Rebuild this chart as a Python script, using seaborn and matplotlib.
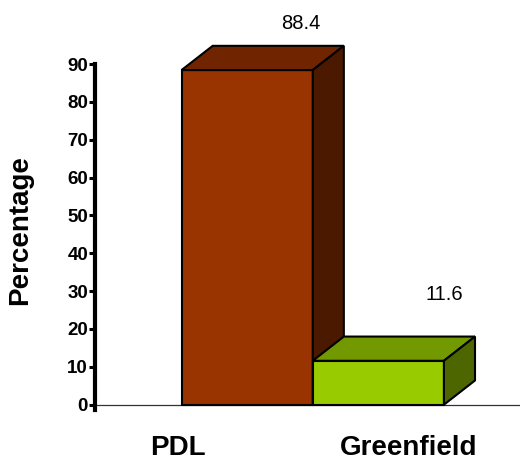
#!/usr/bin/env python3
"""
Gráfica de barras pseudo-3D: porcentaje PDL vs Greenfield.
Salida: out.png (520x462 px).
"""

import matplotlib
matplotlib.use("Agg")
import matplotlib.pyplot as plt
from matplotlib.patches import Polygon
import seaborn as sns

# Datos
categories = ["PDL", "Greenfield"]
values = [88.4, 11.6]
y_ticks = [0, 10, 20, 30, 40, 50, 60, 70, 80, 90]

# Colores por cara: frontal, superior, lateral
FRONT = ["#993300", "#99CC00"]
TOP = ["#702500", "#739900"]
SIDE = ["#4B1900", "#4D6600"]

sns.set_style("white")
plt.rcParams.update({
    "font.family": ["Liberation Sans", "DejaVu Sans"],
    "text.color": "black",
    "axes.labelcolor": "black",
    "ytick.color": "black",
})

fig = plt.figure(figsize=(5.2, 4.62), dpi=100)
ax = fig.add_axes([95 / 520, 52 / 462, 425 / 520, 346 / 462])

sns.barplot(x=categories, y=values, hue=categories, palette=FRONT,
            legend=False, width=1.0, edgecolor="black", linewidth=1.5,
            saturation=1, ax=ax)

# Profundidad del efecto 3D (unidades de datos)
DX, DY = 0.237, 6.4

for i, bar in enumerate(ax.patches):
    x0 = bar.get_x()
    x1 = x0 + bar.get_width()
    h = bar.get_height()
    z = 2 + i
    bar.set_zorder(z)
    top = Polygon([(x0, h), (x0 + DX, h + DY), (x1 + DX, h + DY), (x1, h)],
                  closed=True, facecolor=TOP[i], edgecolor="black",
                  linewidth=1.5, zorder=z, clip_on=False)
    side = Polygon([(x1, 0), (x1, h), (x1 + DX, h + DY), (x1 + DX, DY)],
                   closed=True, facecolor=SIDE[i], edgecolor="black",
                   linewidth=1.5, zorder=z, clip_on=False)
    ax.add_patch(top)
    ax.add_patch(side)

# Etiquetas de valor (desplazamientos del original)
label_dx = [0.41, 0.50]
label_dy = [12.2, 17.4]
for i, v in enumerate(values):
    ax.text(i + label_dx[i], v + label_dy[i], f"{v:.1f}", ha="center",
            va="center", fontsize=14.5, color="black", clip_on=False)

# Etiquetas de categoría (desplazadas respecto a las barras, como en el original)
cat_x = [-0.53, 1.23]
for i, c in enumerate(categories):
    ax.text(cat_x[i], -13.3, c, ha="center", va="baseline", fontsize=20,
            fontweight="bold", color="black", clip_on=False)

ax.set_xlim(-1.16, 2.08)
ax.set_ylim(-1.4, 90)
ax.set_xticks([])
ax.set_xlabel("")
ax.set_yticks(y_ticks)
ax.set_yticklabels([str(t) for t in y_ticks], fontsize=13.5, fontweight="bold")
ax.tick_params(axis="y", direction="out", length=4, width=2.2, pad=1,
               colors="black", left=True)

ax.axhline(0, color="#333333", linewidth=0.9, zorder=1)
for s in ["top", "right", "bottom"]:
    ax.spines[s].set_visible(False)
ax.spines["left"].set_linewidth(3)
ax.spines["left"].set_color("black")

ax.set_ylabel("Percentage", fontsize=20, fontweight="bold", color="black")
ax.yaxis.set_label_coords(-0.146, 0.52)

plt.savefig("out.png", dpi=100)
plt.close()
